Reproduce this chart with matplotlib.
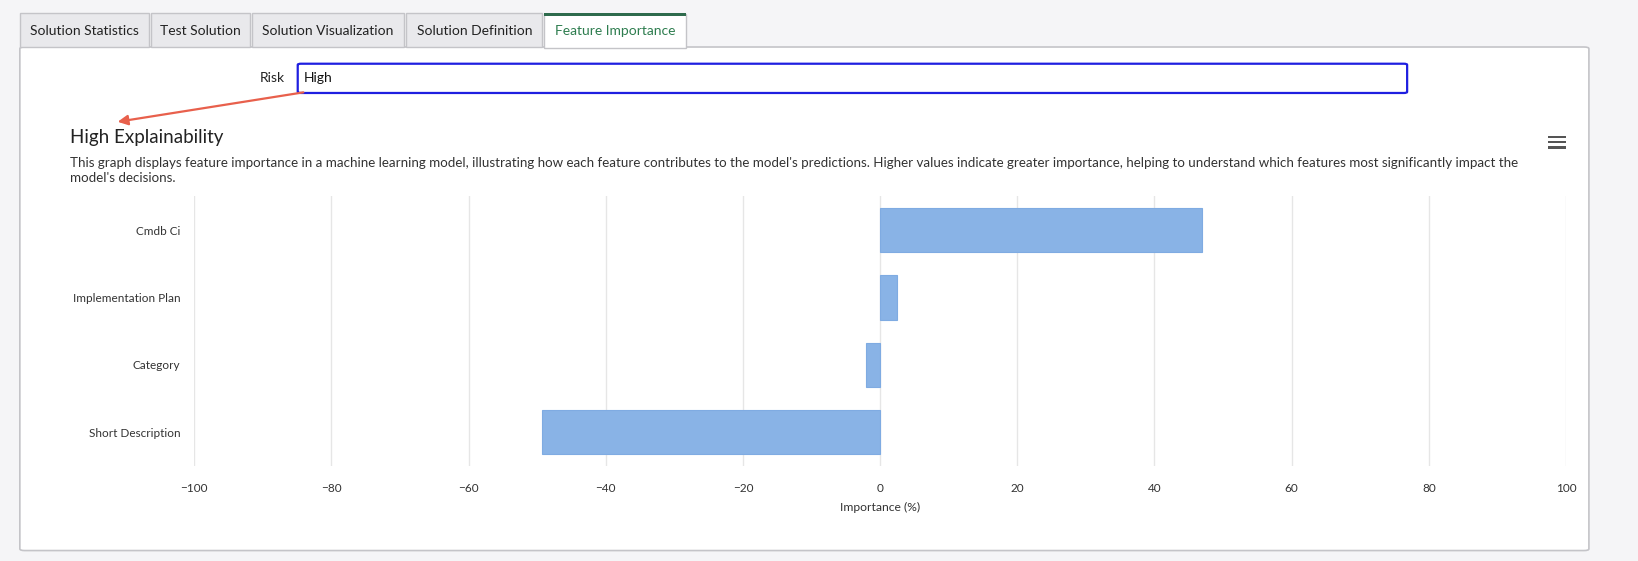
import matplotlib
matplotlib.use("Agg")
import matplotlib.pyplot as plt
from matplotlib.patches import FancyBboxPatch, Rectangle, FancyArrowPatch

plt.rcParams['font.family'] = ['Lato', 'DejaVu Sans']

features = ["Cmdb Ci", "Implementation Plan", "Category", "Short Description"]
importance = [47.0, 2.4, -2.1, -49.3]
xticks = [-100, -80, -60, -40, -20, 0, 20, 40, 60, 80, 100]
tabs = ["Solution Statistics", "Test Solution", "Solution Visualization", "Solution Definition", "Feature Importance"]
tab_x = [(19, 143), (145, 239), (241, 387), (389, 519), (521, 657)]

W, H = 1568.0, 537.0
def P(x, y):
    return (x / W, 1 - y / H)

fig = plt.figure(figsize=(16.38, 5.61), dpi=100)
fig.patch.set_facecolor('#f5f5f7')

# panel
fig.patches.append(FancyBboxPatch(P(19, 527), (1521 - 19) / W, (527 - 45) / H,
                                  boxstyle="round,pad=0,rounding_size=0.003", transform=fig.transFigure,
                                  facecolor='white', edgecolor='#c4c4c8', lw=1.2, zorder=-2))
# tabs
for i, (name, (x0, x1)) in enumerate(zip(tabs, tab_x)):
    active = i == len(tabs) - 1
    fig.patches.append(Rectangle(P(x0, 45 if not active else 46), (x1 - x0) / W, (45 - 12) / H,
                                 transform=fig.transFigure, facecolor='white' if active else '#e9e9ec',
                                 edgecolor='#c4c4c8', lw=1, zorder=-1))
    if active:
        fig.patches.append(Rectangle(P(x0, 15), (x1 - x0) / W, 3 / H, transform=fig.transFigure,
                                     facecolor='#2e6b4d', edgecolor='none', zorder=2))
    fig.text(*P((x0 + x1) / 2, 30), name, ha='center', va='center', fontsize=10,
             color='#2e7d4f' if active else '#222222', zorder=3)

# Risk input
fig.text(*P(273, 75), "Risk", ha='right', va='center', fontsize=10, color='#222')
fig.patches.append(FancyBboxPatch(P(285, 89), (1347 - 285) / W, (89 - 61) / H,
                                  boxstyle="round,pad=0,rounding_size=0.002", transform=fig.transFigure,
                                  facecolor='white', edgecolor='#1f1fe0', lw=1.6, zorder=1))
fig.text(*P(291, 75), "High", ha='left', va='center', fontsize=10, color='#111')

# arrow
fig.patches.append(FancyArrowPatch(P(293, 88), P(110, 117), transform=fig.transFigure,
                                   arrowstyle='-|>,head_length=6,head_width=3', color='#e8604c', lw=1.6,
                                   mutation_scale=1, zorder=4))

# title + description
fig.text(*P(67, 132), "High Explainability", ha='left', va='center', fontsize=13.5, color='#222')
fig.text(*P(67, 156), "This graph displays feature importance in a machine learning model, illustrating how each feature contributes to the model's predictions. Higher values indicate greater importance, helping to understand which features most significantly impact the",
         ha='left', va='center', fontsize=9.6, color='#333')
fig.text(*P(67, 170), "model's decisions.", ha='left', va='center', fontsize=9.6, color='#333')

# hamburger
for dy in (-5, 0, 5):
    fig.patches.append(Rectangle(P(1482, 136 + dy + 1.2), 17 / W, 2.4 / H, transform=fig.transFigure,
                                 facecolor='#555', edgecolor='none'))

# chart
x0, y0 = P(186, 446)
x1, y1 = P(1499, 188)
ax = fig.add_axes([x0, y0, x1 - x0, y1 - y0])
ax.set_zorder(5)
ax.patch.set_alpha(0)
ypos = list(range(len(features)))
ax.barh(ypos, importance, height=0.66, color='#89b3e6', edgecolor='#7fabe2', lw=0.8, zorder=3)
ax.set_yticks(ypos)
ax.set_yticklabels(features)
ax.set_ylim(len(features) - 0.5, -0.5)
ax.set_xlim(-100, 100)
ax.set_xticks(xticks)
ax.set_xticklabels(["\u2212" + str(-t) if t < 0 else str(t) for t in xticks])
ax.grid(axis='x', color='#e6e6e6', lw=1, zorder=0)
for s in ax.spines.values():
    s.set_visible(False)
ax.tick_params(length=0, labelsize=8.5, colors='#333', pad=12)
ax.tick_params(axis='y', pad=10)
ax.set_xlabel("Importance (%)", fontsize=8.7, color='#333', labelpad=6)

fig.savefig("out.png", dpi=100)
